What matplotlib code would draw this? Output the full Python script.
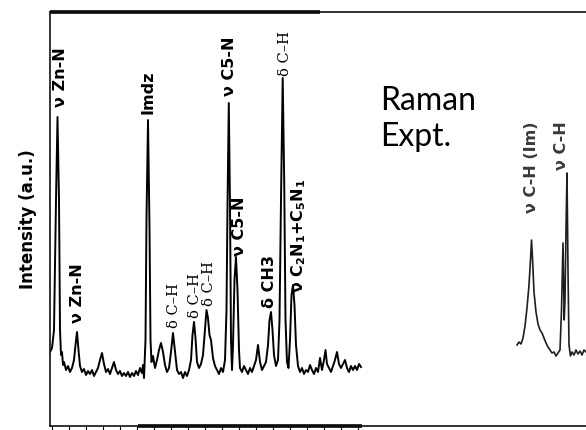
import numpy as np
import matplotlib
matplotlib.use("Agg")
import matplotlib.pyplot as plt
from matplotlib.transforms import Bbox, TransformedBbox, blended_transform_factory

plt.rcParams["mathtext.fontset"] = "custom"
plt.rcParams["mathtext.rm"] = "DejaVu Sans:bold"
plt.rcParams["mathtext.it"] = "DejaVu Sans:bold"
plt.rcParams["mathtext.bf"] = "DejaVu Sans:bold"

# ---- Raman spectrum, low-frequency window (Raman shift in cm-1, intensity in a.u.)
shift_low = [
    100, 110, 120, 130, 137.5, 145, 150, 155, 160, 165, 170, 180, 190, 200, 210, 220,
    227.5, 235, 242.5, 250, 260, 270, 280, 290, 300, 310, 320, 330, 340, 350, 360, 370,
    380, 390, 400, 410, 420, 430, 440, 450, 460, 470, 480, 490, 500, 510, 520, 530, 540,
    550, 560, 565, 570, 577.5, 582.5, 590, 597.5, 602.5, 607.5, 615, 625, 635, 645, 655,
    665, 675, 685, 695, 705, 715, 725, 735, 745, 755, 765, 775, 785, 795, 805, 812.5, 820,
    827.5, 835, 845, 855, 865, 875, 882.5, 890, 897.5, 905, 915, 925, 935, 945, 955, 965,
    975, 982.5, 987.5, 994, 1000, 1005, 1010, 1015, 1022.5, 1030, 1037.5, 1045, 1050,
    1060, 1070, 1080, 1090, 1100, 1110, 1120, 1130, 1140, 1150, 1160, 1170, 1180, 1190,
    1197.5, 1205, 1212.5, 1220, 1230, 1240, 1247.5, 1255, 1263.5, 1271, 1277.5, 1285,
    1292.5, 1300, 1307.5, 1315, 1322.5, 1330, 1340, 1350, 1360, 1370, 1380, 1390, 1400,
    1410, 1420, 1430, 1440, 1450, 1460, 1470, 1477.5, 1485, 1495, 1505, 1515, 1525, 1535,
    1545, 1555, 1565, 1575, 1585, 1595, 1605, 1615, 1625, 1635, 1645, 1655,
]
intensity_low = [
    74, 78, 96, 226, 309, 226, 96, 71, 74, 61, 64, 56, 60, 54, 58, 66,
    81, 94, 76, 60, 54, 57, 51, 55, 52, 56, 50, 54, 58, 66, 73, 62,
    54, 57, 52, 58, 64, 56, 52, 55, 50, 53, 50, 54, 49, 53, 50, 55, 51,
    58, 53, 61, 48, 86, 208, 306, 198, 86, 64, 70, 58, 66, 76, 83,
    74, 61, 54, 58, 74, 93, 74, 56, 52, 54, 48, 54, 50, 56, 66, 91, 104,
    88, 64, 58, 62, 71, 96, 116, 108, 91, 86, 68, 60, 56, 52, 58, 54,
    66, 116, 220, 323, 220, 86, 56, 81, 146, 169, 136, 76, 58,
    54, 60, 56, 52, 58, 54, 60, 66, 81, 64, 56, 60, 64, 81,
    106, 114, 96, 71, 60, 66, 106, 226, 348, 246, 106, 64,
    58, 86, 131, 141, 121, 81, 60, 54, 58, 52, 56, 54, 61,
    56, 52, 58, 54, 68, 56, 66, 76, 62, 58, 54, 60, 66, 74,
    62, 58, 62, 66, 58, 54, 60, 56, 60, 56, 62, 59,
]

# ---- high-frequency window (C-H stretching region)
shift_high = [
    2435, 2445, 2455, 2465, 2475, 2485, 2495, 2502.5, 2507.5, 2512.5, 2520, 2530, 2540,
    2550, 2560, 2570, 2580, 2590, 2600, 2610, 2620, 2630, 2640, 2650, 2657.5, 2665, 2671,
    2675, 2680, 2685, 2690, 2695, 2702.5, 2710, 2720, 2730, 2740, 2750, 2760, 2770, 2780,
]
intensity_high = [
    81, 84, 82, 88, 100, 118, 141, 166, 186, 168, 134, 114, 102,
    96, 93, 88, 83, 79, 76, 73, 74, 70, 73, 76, 116, 183, 106,
    126, 196, 253, 156, 81, 70, 74, 71, 76, 72, 75, 71, 76, 74,
]

# ---- band assignments: label, position, height of the label's foot, typeface
band_labels = ["ν Zn-N", "ν Zn-N", "Imdz", "δ C–H", "δ C–H", "δ C–H", "ν C5-N",
               "ν C5-N", "δ CH3", "δ C–H", r"ν C$_2$N$_1$+C$_5$N$_1$"]
band_shift = [152, 237, 592, 722, 826, 897, 1000, 1047, 1200, 1276, 1343]
band_base = [319, 103, 312, 98, 108, 120, 330, 170, 118, 350, 133]
band_style = ["sans", "sans", "sans", "serif", "serif", "serif", "sans",
              "sans", "sans", "serif", "sans"]

high_labels = ["ν C-H (Im)", "ν C-H"]
high_shift = [2510, 2660]
high_base = [213, 256]

x_range = (100, 2780)
y_range = (0, 414)

fig = plt.figure(figsize=(5.86, 4.30), dpi=100)
ax = fig.add_axes([50 / 586, 4 / 430, 536 / 586, 414 / 430])

ax.plot(shift_low, intensity_low, color="black", lw=1.4, solid_joinstyle="round")
ax.plot(shift_high, intensity_high, color="#1e1e1e", lw=1.2, solid_joinstyle="round")

ax.set_xlim(*x_range)
ax.set_ylim(*y_range)

for lab, xs, yb, st in zip(band_labels, band_shift, band_base, band_style):
    if st == "sans":
        ax.text(xs, yb, lab, rotation=90, ha="center", va="bottom",
                family="DejaVu Sans", fontweight="bold", fontsize=11.5)
    else:
        ax.text(xs, yb, lab, rotation=90, ha="center", va="bottom",
                family="DejaVu Serif", fontsize=10.5)

# labels of the C-H stretching bands are cut off at the top of their panel
clip = TransformedBbox(Bbox([[2400, 0], [2800, 309]]), ax.transData)
for lab, xs, yb in zip(high_labels, high_shift, high_base):
    t = ax.text(xs, yb, lab, rotation=90, ha="center", va="bottom",
                family="DejaVu Sans", fontweight="bold", fontsize=11.5,
                color="#3a3a3a")
    t.set_clip_box(clip)
    t.set_clip_on(True)

ax.text(1750, 340, "Raman\nExpt.", family="Lato", fontsize=23, ha="left",
        va="top", linespacing=1.25)

ax.set_ylabel("Intensity (a.u.)", family="DejaVu Sans", fontweight="bold",
              fontsize=12)
ax.yaxis.set_label_coords(-0.024, 0.5)

# frame
ax.spines["right"].set_visible(False)
for side in ("left", "top", "bottom"):
    ax.spines[side].set_linewidth(1.2)
    ax.spines[side].set_color("#111111")
edge = blended_transform_factory(ax.transData, ax.transAxes)
ax.plot([100, 1450], [1, 1], transform=edge, color="black", lw=2.6,
        clip_on=False, solid_capstyle="butt")
ax.plot([540, 1660], [0, 0], transform=edge, color="black", lw=2.6,
        clip_on=False, solid_capstyle="butt")

ax.set_yticks([])
ax.set_xticks(np.arange(110, 1660, 85))
ax.tick_params(axis="x", direction="out", length=3, width=0.8, labelbottom=False)

fig.savefig("out.png", dpi=100)
